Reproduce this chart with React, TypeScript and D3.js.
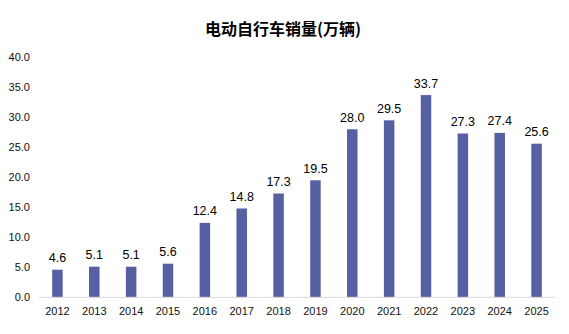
import React from "react";
import * as d3 from "d3";

const years = ["2012","2013","2014","2015","2016","2017","2018","2019","2020","2021","2022","2023","2024","2025"];
const sales = [4.6, 5.1, 5.1, 5.6, 12.4, 14.8, 17.3, 19.5, 28.0, 29.5, 33.7, 27.3, 27.4, 25.6];
const yTicks = [0, 5, 10, 15, 20, 25, 30, 35, 40];
const title = "电动自行车销量(万辆)";

export default function App() {
  const W = 569, H = 334;
  const left = 39, right = 555, top = 57.3, bottom = 297.3;
  const x = d3.scaleBand<string>().domain(years).range([left, right]).paddingInner(0).paddingOuter(0);
  const y = d3.scaleLinear().domain([0, 40]).range([bottom, top]);
  const bw = 10.5;
  const font = "'Liberation Sans', Arial, sans-serif";
  return (
    <svg width={W} height={H} style={{ position: "absolute", left: 0, top: 0, background: "#fff" }}>
      <text x={283} y={34.5} textAnchor="middle" fontSize={16} fontWeight="bold"
        fontFamily="'Noto Sans CJK SC', sans-serif" fill="#000">{title}</text>
      {yTicks.map(t => (
        <text key={t} x={30} y={y(t)} dy="0.35em" textAnchor="end" fontSize={11} fontFamily={font} fill="#111">
          {t.toFixed(1)}
        </text>
      ))}
      {years.map((yr, i) => {
        const cx = (x(yr) as number) + x.bandwidth() / 2;
        return (
          <g key={yr}>
            <rect x={cx - bw / 2} y={y(sales[i])} width={bw} height={bottom - y(sales[i])} fill="#5660a3" />
            <text x={cx} y={y(sales[i]) - 7.5} textAnchor="middle" fontSize={12.5} fontFamily={font} fill="#000">
              {sales[i].toFixed(1)}
            </text>
            <text x={cx} y={311} dy="0.35em" textAnchor="middle" fontSize={11} fontFamily={font} fill="#111">
              {yr}
            </text>
          </g>
        );
      })}
      <line x1={left} x2={right} y1={bottom} y2={bottom} stroke="#d9d9d9" strokeWidth={1} />
    </svg>
  );
}
